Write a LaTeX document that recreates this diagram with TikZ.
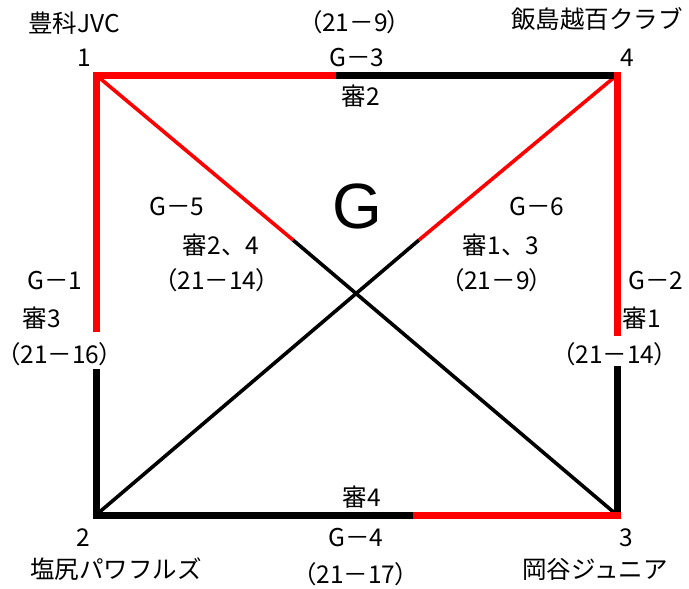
\documentclass[tikz,border=0pt]{standalone}
\usepackage{fontspec}
\setmainfont{Noto Sans CJK JP}
\newfontfamily\scorefont{Noto Sans CJK JP}[RawFeature=+palt]
\newfontfamily\bigfont{Liberation Sans}
\begin{document}
\begin{tikzpicture}[x=1pt,y=-1pt,
  lab/.style={inner sep=0pt,font=\fontsize{24.5}{28}\selectfont},
  score/.style={inner sep=0pt,font=\fontsize{24.5}{28}\scorefont},
  won/.style={red,line width=7pt},
  lost/.style={black,line width=7pt},
  thinwon/.style={red,line width=3.6pt},
  thinlost/.style={black,line width=3.6pt}]
\useasboundingbox (0,0) rectangle (689,589);
\coordinate (v1) at (96,75);
\coordinate (v4) at (617,75);
\coordinate (v2) at (96,515);
\coordinate (v3) at (617,515);
\coordinate (m14) at (336,75);
\coordinate (m12a) at (96,332);
\coordinate (m12b) at (96,369);
\coordinate (m43a) at (617,332);
\coordinate (m43b) at (617,369);
\coordinate (m23) at (416,515);
\coordinate (m13) at (293,240);
\coordinate (m42) at (419,240);
\draw[thinlost] (m13) -- (v3);
\draw[thinlost] (m42) -- (v2);
\draw[thinwon] (v1) -- (m13);
\draw[thinwon] (v4) -- (m42);
\draw[lost] (m14) -- (v4);
\draw[won] (m12a) -- (v1) -- (m14);
\draw[won,line cap=rect] (v4) -- (m43a);
\draw[lost] (m12b) -- (v2) -- (m23);
\draw[lost,line cap=rect] (m43b) -- (v3);
\draw[won,line cap=rect] (m23) -- (v3);
\foreach \n/\p/\t in {n1/{(74,23)}/豊科JVC, k1/{(84,58)}/1, gm3/{(357,58)}/G－3, rf3/{(361,96)}/審2,
  n4/{(597,19)}/飯島越百クラブ, k4/{(627,58)}/4, gm5/{(177,207)}/G－5, rf5/{(221,245)}/審2、4,
  gm6/{(537,207)}/G－6, rf6/{(501,245)}/審1、3, gm1/{(55,281)}/G－1, rf1/{(42,318)}/審3,
  gm2/{(656,281)}/G－2, rf2/{(642,318)}/審1, rf4/{(362,497)}/審4, k2/{(83,538)}/2,
  gm4/{(356,538)}/G－4, k3/{(626,538)}/3, n2/{(116,569)}/塩尻パワフルズ, n3/{(595,569)}/岡谷ジュニア}{
  \node[lab] (\n) at \p {\t};
}
\foreach \n/\p/\t in {sc3/{(355,22)}/21－9, sc5/{(217,280)}/21－14, sc6/{(497,280)}/21－9,
  sc1/{(60,354)}/21－16, sc2/{(615,354)}/21－14, sc4/{(356,574)}/21－17}{
  \node[score] (\n) at \p {（\t）};
}
\node[inner sep=0pt,font=\fontsize{64}{72}\bigfont] (grp) at (357,206) {G};
\end{tikzpicture}
\end{document}
